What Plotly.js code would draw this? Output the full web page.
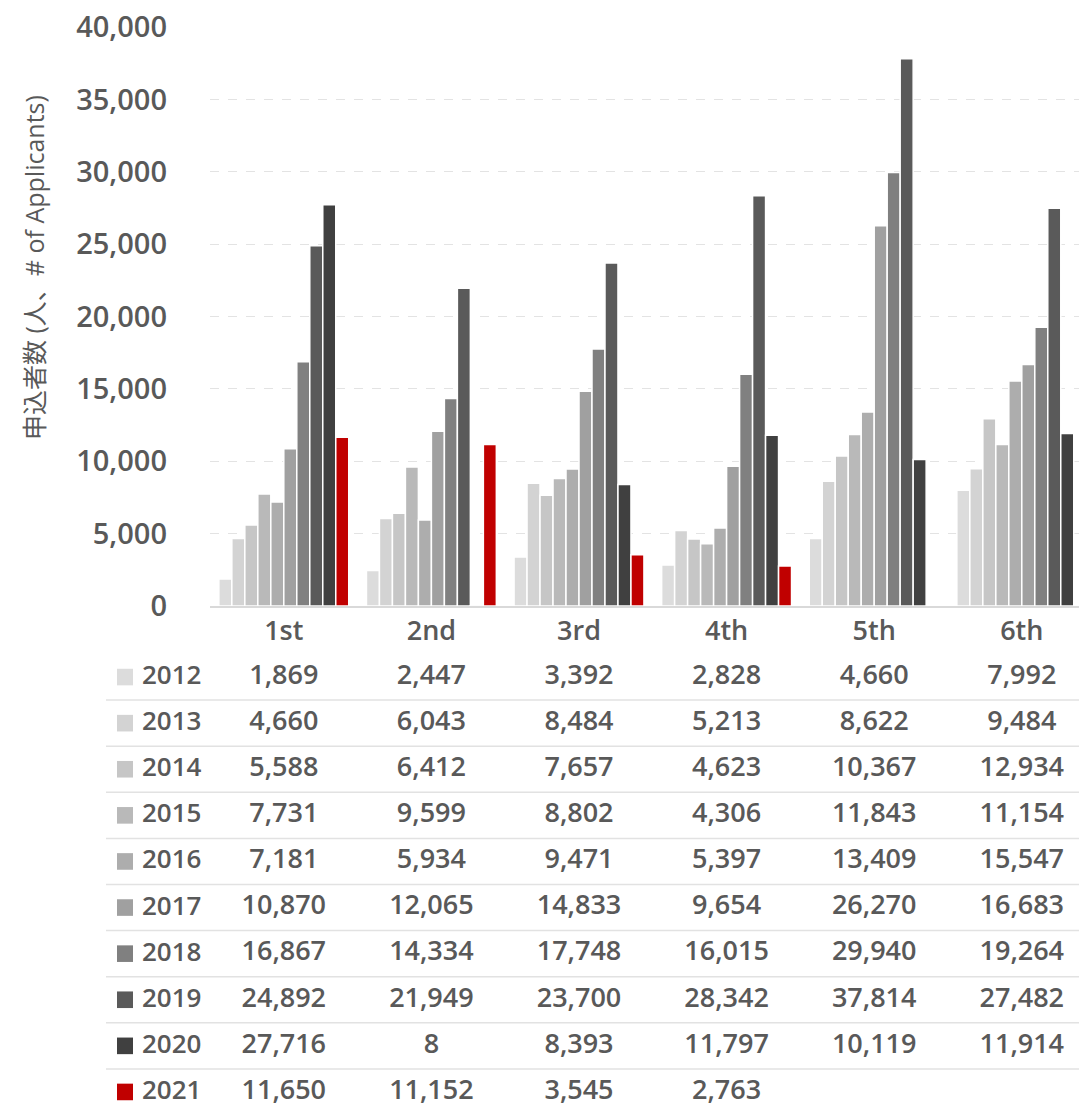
<!DOCTYPE html>
<html>
<head>
<meta charset="utf-8">
<script src="https://cdn.plot.ly/plotly-3.0.1.min.js"></script>
<style>html,body{margin:0;padding:0;background:#fff}#chart{width:1079px;height:1106px}</style>
</head>
<body>
<div id="chart"></div>
<script>
const categories = ['1st', '2nd', '3rd', '4th', '5th', '6th'];
const years = ['2012', '2013', '2014', '2015', '2016', '2017', '2018', '2019', '2020', '2021'];
const v2012 = [1869, 2447, 3392, 2828, 4660, 7992];
const v2013 = [4660, 6043, 8484, 5213, 8622, 9484];
const v2014 = [5588, 6412, 7657, 4623, 10367, 12934];
const v2015 = [7731, 9599, 8802, 4306, 11843, 11154];
const v2016 = [7181, 5934, 9471, 5397, 13409, 15547];
const v2017 = [10870, 12065, 14833, 9654, 26270, 16683];
const v2018 = [16867, 14334, 17748, 16015, 29940, 19264];
const v2019 = [24892, 21949, 23700, 28342, 37814, 27482];
const v2020 = [27716, 8, 8393, 11797, 10119, 11914];
const v2021 = [11650, 11152, 3545, 2763, null, null];
const seriesValues = [v2012, v2013, v2014, v2015, v2016, v2017, v2018, v2019, v2020, v2021];
const colors = ['#dcdcdc', '#d3d3d3', '#c6c6c6', '#b9b9b9', '#adadad', '#a0a0a0', '#808080', '#5a5a5a', '#404040', '#c00000'];
const yTitle = '申込者数 (人、# of Applicants)';

const FONT = 'Open Sans, Noto Sans CJK JP, sans-serif';
const TXT = '#595959';

const W = 1079, H = 1106, L = 210, T = 27;
const plotW = W - L, plotH = H - T;
const px = x => (x - L) / plotW;          // pixel -> paper x
const py = y => (H - y) / plotH;          // pixel -> paper y

const fmt = v => (v === null || v === undefined) ? '' : v.toLocaleString('en-US');

const traces = [];
years.forEach((yr, i) => {
  traces.push({
    type: 'bar', name: yr, x: categories, y: seriesValues[i],
    xaxis: 'x', yaxis: 'y',
    marker: {color: colors[i], line: {color: '#ffffff', width: 1.5}},
    hoverinfo: 'skip', showlegend: false
  });
});
years.forEach((yr, i) => {
  traces.push({
    type: 'scatter', mode: 'text', x: categories, y: categories.map(() => yr),
    xaxis: 'x', yaxis: 'y2',
    text: seriesValues[i].map(fmt),
    textposition: 'middle center',
    textfont: {family: FONT, size: 27, color: TXT, weight: 600},
    hoverinfo: 'skip', showlegend: false, cliponaxis: false
  });
});

const shapes = [];
const annotations = [];
years.forEach((yr, i) => {
  shapes.push({type: 'rect', xref: 'paper', yref: 'y2',
    x0: px(117), x1: px(133), y0: i - 0.18, y1: i + 0.18,
    fillcolor: colors[i], line: {width: 0}, layer: 'above'});
  annotations.push({xref: 'paper', yref: 'y2', x: px(141), y: i, xanchor: 'left', yanchor: 'middle',
    yshift: 3, borderpad: 0, text: yr, showarrow: false,
    font: {family: FONT, size: 26, color: TXT, weight: 600}});
  if (i < years.length - 1) {
    shapes.push({type: 'line', xref: 'paper', yref: 'y2', x0: px(106), x1: 1, y0: i + 0.5, y1: i + 0.5,
      line: {color: '#e2e2e2', width: 1.5}});
  }
});
annotations.push({xref: 'paper', yref: 'paper', x: px(34), y: py(268), textangle: -90,
  xanchor: 'center', yanchor: 'middle', text: yTitle, showarrow: false,
  font: {family: FONT, size: 25, color: TXT}});

const rowTop = 654, rowH = 46.1;
const layout = {
  width: W, height: H,
  margin: {l: L, r: 0, t: T, b: 0, pad: 0},
  paper_bgcolor: '#ffffff', plot_bgcolor: '#ffffff',
  barmode: 'group', bargap: 0.12, bargroupgap: 0,
  font: {family: FONT, color: TXT},
  xaxis: {type: 'category', categoryorder: 'array', categoryarray: categories,
    range: [-0.5, -0.5 + plotW / 147.6], anchor: 'y',
    showline: true, linecolor: '#d9d9d9', linewidth: 2, ticks: '', showgrid: false, zeroline: false,
    tickfont: {family: FONT, size: 27, color: TXT, weight: 600}, fixedrange: true},
  yaxis: {domain: [py(606), 1], range: [0, 40000], dtick: 5000, tickformat: ',d',
    showgrid: true, gridcolor: '#e3e3e3', griddash: 'dash', gridwidth: 1,
    zeroline: false, showline: false, ticks: '', ticklabelstandoff: 42,
    tickfont: {family: FONT, size: 29, color: TXT, weight: 600}, fixedrange: true},
  yaxis2: {type: 'category', categoryorder: 'array', categoryarray: years,
    domain: [0, py(rowTop)], range: [(H - rowTop) / rowH - 0.5, -0.5], anchor: 'x',
    showgrid: false, zeroline: false, showline: false, showticklabels: false, ticks: '', fixedrange: true},
  shapes: shapes,
  annotations: annotations
};

Plotly.newPlot('chart', traces, layout, {staticPlot: true, displayModeBar: false});
</script>
</body>
</html>
